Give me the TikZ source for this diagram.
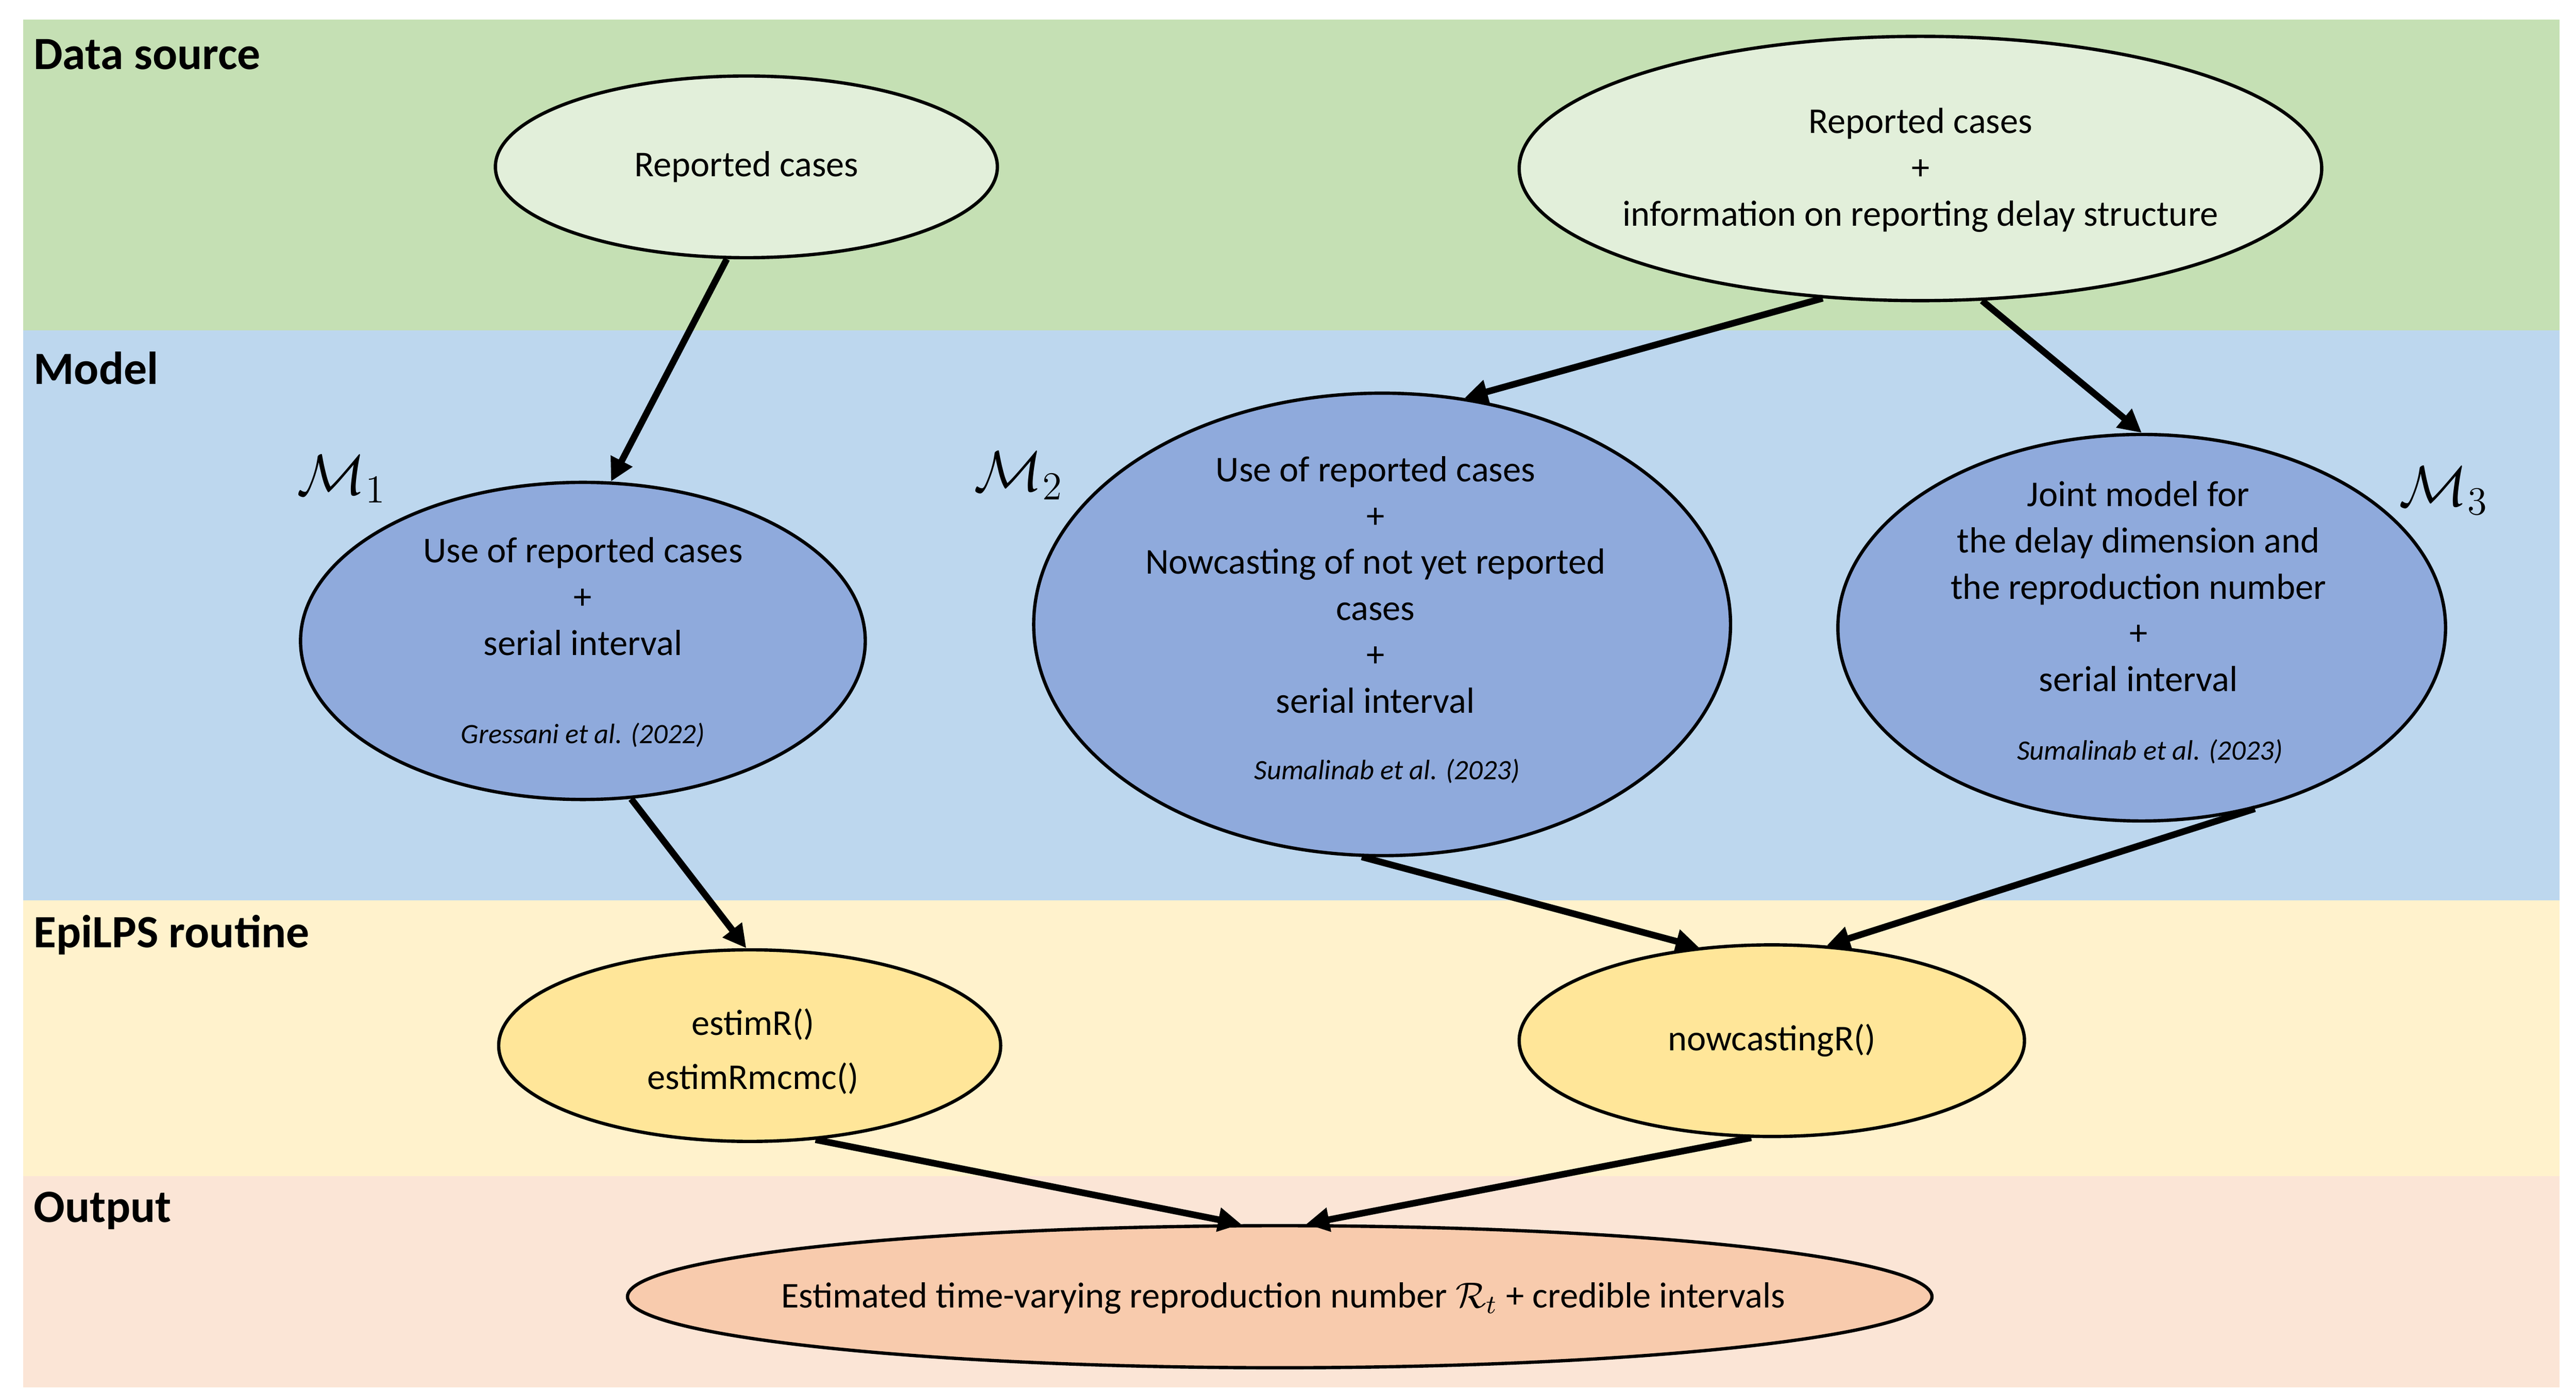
\documentclass[tikz,border=0pt]{standalone}
\usepackage{fontspec}
\setmainfont{Carlito}
\usepackage{amsmath}
\usetikzlibrary{shapes.geometric,arrows.meta}
\definecolor{bandgreen}{HTML}{C5E0B4}
\definecolor{bandblue}{HTML}{BDD7EE}
\definecolor{bandyellow}{HTML}{FFF2CC}
\definecolor{bandpink}{HTML}{FBE5D6}
\definecolor{ellgreen}{HTML}{E2EFDA}
\definecolor{ellblue}{HTML}{8FAADC}
\definecolor{ellyellow}{HTML}{FFE699}
\definecolor{ellpink}{HTML}{F8CBAD}
\tikzset{
  blob/.style={ellipse, draw=black, line width=1pt, inner sep=0pt},
  txt/.style={align=center, font=\fontsize{11}{14}\selectfont, inner sep=0pt},
  cite/.style={font=\fontsize{8.5}{10}\selectfont\itshape, inner sep=0pt},
  band/.style={font=\fontsize{14}{16}\selectfont\bfseries, anchor=west, inner sep=0pt},
  mlab/.style={font=\fontsize{17}{17}\selectfont, inner sep=0pt},
  flow/.style={line width=2pt, -{Triangle[length=7pt,width=7pt]}},
}
\begin{document}
\begin{tikzpicture}[x=0.5pt,y=-0.5pt]
  \useasboundingbox (0,0) rectangle (1560,842);
  % bands
  \fill[bandgreen]  (14,12)  rectangle (1550,200);
  \fill[bandblue]   (14,200) rectangle (1550,545);
  \fill[bandyellow] (14,545) rectangle (1550,712);
  \fill[bandpink]   (14,712) rectangle (1550,840);
  \node[band] (tdata)  at (20,33)  {Data source};
  \node[band] (tmodel) at (20,223) {Model};
  \node[band] (troute) at (20,566) {EpiLPS routine};
  \node[band] (tout)   at (20,733) {Output};
  % data source
  \node[blob, fill=ellgreen, minimum width=152pt, minimum height=55pt] (rep) at (452,101) {};
  \node[txt] at (rep) {Reported cases};
  \node[blob, fill=ellgreen, minimum width=243pt, minimum height=80pt] (repd) at (1163,102) {};
  \node[txt] at (1163,103) {Reported cases\\+\\information on reporting delay structure};
  % models
  \node[blob, fill=ellblue, minimum width=171pt, minimum height=96pt] (m1) at (353,388) {};
  \node[txt] at (353,361) {Use of reported cases\\+\\serial interval};
  \node[cite] at (353,445) {Gressani et al. (2022)};
  \node[mlab] (lm1) at (207,290) {$\mathcal{M}_1$};
  \node[blob, fill=ellblue, minimum width=211pt, minimum height=140pt] (m2) at (837,378) {};
  \node[txt] at (833,354) {Use of reported cases\\+\\Nowcasting of not yet reported\\cases\\+\\serial interval};
  \node[cite] at (840,467) {Sumalinab et al. (2023)};
  \node[mlab] (lm2) at (617,288) {$\mathcal{M}_2$};
  \node[blob, fill=ellblue, minimum width=184pt, minimum height=117pt] (m3) at (1297,380) {};
  \node[txt] at (1295,355) {Joint model for\\the delay dimension and\\the reproduction number\\+\\serial interval};
  \node[cite] at (1302,455) {Sumalinab et al. (2023)};
  \node[mlab] (lm3) at (1480,297) {$\mathcal{M}_3$};
  % routines
  \node[blob, fill=ellyellow, minimum width=152pt, minimum height=58pt] (est) at (454,633) {};
  \node[txt] at (456,620) {estimR()};
  \node[txt] at (456,653) {estimRmcmc()};
  \node[blob, fill=ellyellow, minimum width=153pt, minimum height=58pt] (now) at (1073,630) {};
  \node[txt] at (now) {nowcastingR()};
  % output
  \node[blob, fill=ellpink, minimum width=395pt, minimum height=43pt] (rt) at (775,785) {};
  \node[txt] at (777,786) {Estimated time-varying reproduction number $\mathcal{R}_t$ + credible intervals};
  % arrows
  \draw[flow] (rep.258) -- (m1.80);
  \draw[flow] (repd.233) -- (m2.70);
  \draw[flow] (repd.295) -- (m3.90);
  \draw[flow] (m1.287) -- (est.92);
  \draw[flow] (m2.265) -- (now.128);
  \draw[flow] (m3.302) -- (now.60);
  \draw[flow] (est.305) -- (rt.118);
  \draw[flow] (now.258) -- (rt.70);
\end{tikzpicture}
\end{document}
